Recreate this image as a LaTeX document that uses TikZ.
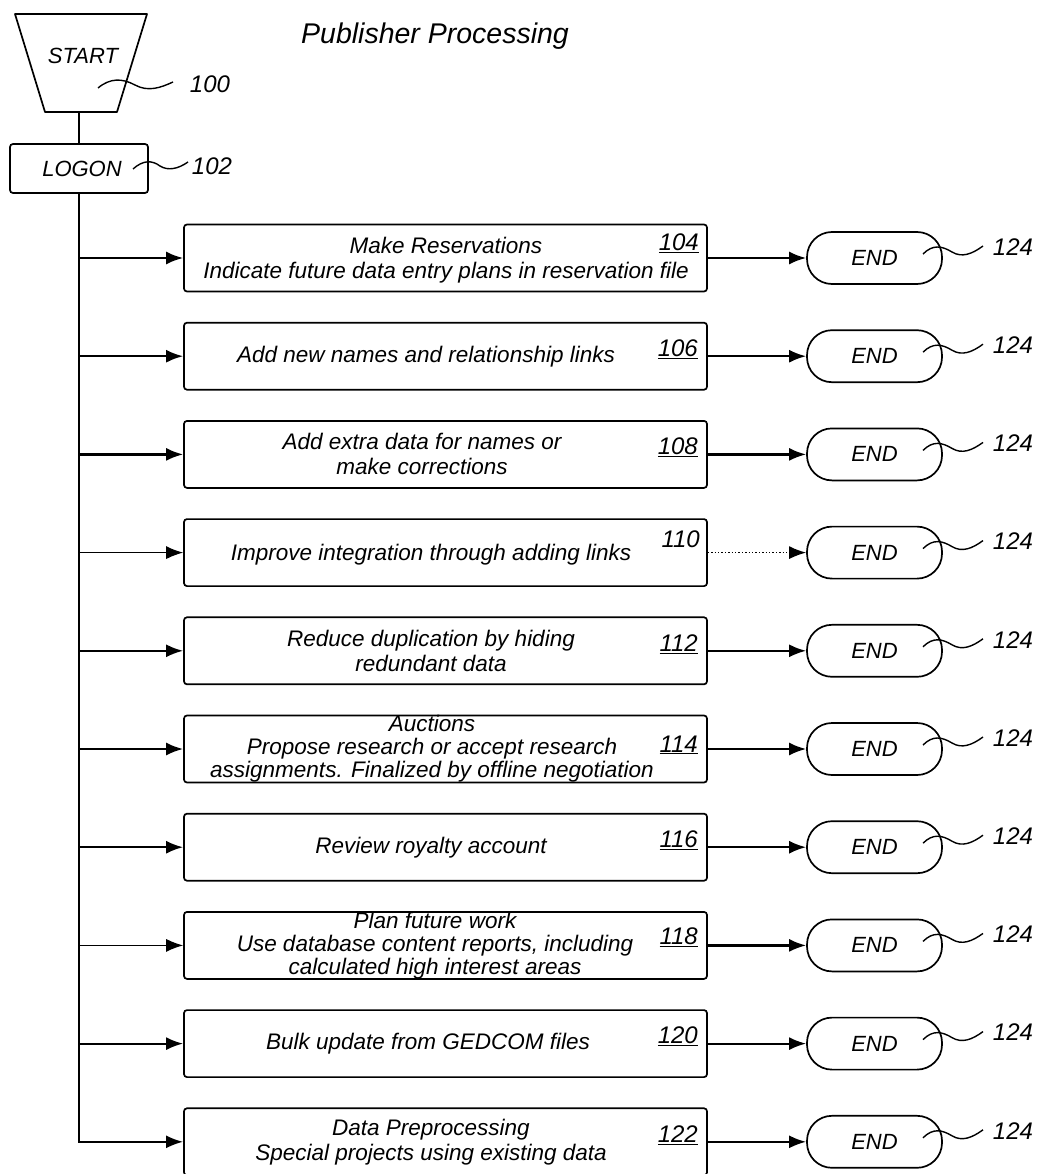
\documentclass[tikz,border=0pt]{standalone}
\usepackage{fontspec}
\setmainfont{Liberation Sans}
\usetikzlibrary{arrows.meta}
\begin{document}
\begin{tikzpicture}[x=1pt,y=-1pt,
  every node/.style={inner sep=0pt},
  txt/.style={align=center, font=\itshape\fontsize{22.5}{25}\selectfont},
  txttight/.style={align=center, font=\itshape\fontsize{22.5}{23}\selectfont},
  num/.style={anchor=east, font=\itshape\fontsize{24}{24}\selectfont},
  reflbl/.style={font=\itshape\fontsize{24}{24}\selectfont},
  title/.style={font=\itshape\fontsize{28.5}{30}\selectfont},
  box/.style={draw, line width=1.7pt, rounded corners=3pt, minimum width=523pt, minimum height=67pt},
  endbox/.style={draw, line width=1.7pt, rounded corners=25pt, minimum width=135pt, minimum height=52pt, font=\itshape\fontsize{22}{22}\selectfont},
  ln/.style={line width=2pt},
  conn/.style={line width=2.2pt, -{Latex[length=17pt,width=13pt]}},
  thinconn/.style={line width=1.1pt, -{Latex[length=17pt,width=13pt]}},
  dotconn/.style={line width=1.4pt, dotted, -{Latex[length=17pt,width=13pt]}},
  squig/.style={line width=1.4pt},
]
\useasboundingbox (0,0) rectangle (1039,1174);

% title
\node[title] (ttl) at (435,36) {Publisher Processing};

% start
\draw[line width=1.7pt, line join=round] (15,14) -- (147,14) -- (117,112) -- (45,112) -- cycle;
\node[font=\itshape\fontsize{22}{22}\selectfont] (start) at (83,56) {START};
\coordinate (startb) at (79,112);
\draw[squig] (98,88) .. controls (110,78) and (122,78) .. (135,85) .. controls (148,92) and (160,88) .. (173,82);
\node[reflbl] (l100) at (210,84) {100};

% logon
\node[draw, line width=1.7pt, rounded corners=3pt, minimum width=138pt, minimum height=49pt,
      font=\itshape\fontsize{22}{22}\selectfont] (logon) at (79,168.5) {\hspace*{6pt}LOGON};
\draw[squig] (133,169) .. controls (143,160) and (152,160) .. (160,166) .. controls (168,171) and (178,169) .. (188,162);
\node[reflbl] (l102) at (212,166) {102};

\draw[ln] (startb) -- (logon.north);

% process boxes
\node[box] (b104) at (445.5,258) {};
\node[txt] (t104) at (446,260) {Make Reservations\\Indicate future data entry plans in reservation file};
\node[num] (n104) at (699,243) {\underline{104}};

\node[box] (b106) at (445.5,356.2) {};
\node[txt] (t106) at (426,356.2) {Add new names and relationship links};
\node[num] (n106) at (698,349) {\underline{106}};

\node[box] (b108) at (445.5,454.4) {};
\node[txt] (t108) at (422,454.4) {Add extra data for names or\\make corrections};
\node[num] (n108) at (698,447) {\underline{108}};

\node[box] (b110) at (445.5,552.6) {};
\node[txt] (t110) at (431,555) {Improve integration through adding links};
\node[num] (n110) at (700,539) {110};

\node[box] (b112) at (445.5,650.8) {};
\node[txt] (t112) at (431,650.8) {Reduce duplication by hiding\\redundant data};
\node[num] (n112) at (698,644) {\underline{112}};

\node[box] (b114) at (445.5,749) {};
\node[txttight] (t114) at (432,749) {Auctions\\Propose research or accept research\\assignments. Finalized by offline negotiation};
\node[num] (n114) at (698,745) {\underline{114}};

\node[box] (b116) at (445.5,847.2) {};
\node[txt] (t116) at (431,847.2) {Review royalty account};
\node[num] (n116) at (698,840) {\underline{116}};

\node[box] (b118) at (445.5,945.4) {};
\node[txttight] (t118) at (435,945.4) {Plan future work\\Use database content reports, including\\calculated high interest areas};
\node[num] (n118) at (698,937) {\underline{118}};

\node[box] (b120) at (445.5,1043.6) {};
\node[txt] (t120) at (428,1043.6) {Bulk update from GEDCOM files};
\node[num] (n120) at (698,1036) {\underline{120}};

\node[box] (b122) at (445.5,1141.8) {};
\node[txt] (t122) at (431,1141.8) {Data Preprocessing\\Special projects using existing data};
\node[num] (n122) at (698,1135) {\underline{122}};

% end nodes
\foreach \n/\y in {104/258,106/356.2,108/454.4,110/552.6,112/650.8,114/749,116/847.2,118/945.4,120/1043.6,122/1141.8}{
  \node[endbox] (e\n) at (874.5,\y) {END};
  \coordinate (j\n) at (79,\y);
  \draw[squig] (923,\y-4) .. controls (933,\y-14) and (942,\y-12) .. (952,\y-6) .. controls (962,\y) and (972,\y-4) .. (983,\y-12);
  \node[reflbl] (r\n) at (1013,\y-11) {124};
}

% trunk
\draw[conn] (logon.south) |- (b122.west);

% left arrows
\foreach \n in {104,106,108,112,114,116,120}{
  \draw[conn] (j\n) -- (b\n.west);
}
\draw[thinconn] (j110) -- (b110.west);
\draw[thinconn] (j118) -- (b118.west);

% right arrows
\foreach \n in {104,106,108,112,114,116,118,120,122}{
  \draw[conn] (b\n.east) -- (e\n.west);
}
\draw[dotconn] (b110.east) -- (e110.west);

\end{tikzpicture}
\end{document}
